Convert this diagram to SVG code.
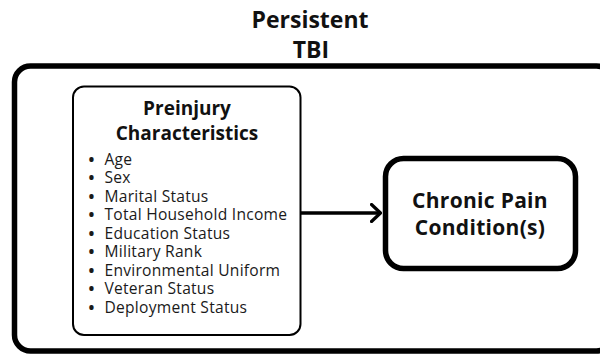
<svg xmlns="http://www.w3.org/2000/svg" width="600" height="354" viewBox="0 0 600 354">
  <style>
    .title { font-family: "Open Sans", "Liberation Sans", sans-serif; font-weight: 700; fill: #111; text-anchor: middle; }
    .item { font-family: "Open Sans", "Liberation Sans", sans-serif; font-size: 15.6px; letter-spacing: 0.25px; fill: #1a1a1a; }
    .dot { font-weight: 700; }
    .box { fill: #fff; stroke: #000; }
  </style>
  <defs>
    <marker id="chevron" viewBox="0 0 12 20" refX="11" refY="10" markerWidth="12" markerHeight="20" markerUnits="userSpaceOnUse" orient="auto">
      <path d="M1.5 1.5 L10.5 10 L1.5 18.5" fill="none" stroke="#000" stroke-width="3.2" stroke-linecap="round" stroke-linejoin="round"/>
    </marker>
  </defs>
  <rect width="600" height="354" fill="#fff"/>

  <!-- heading -->
  <g id="heading">
    <text class="title" x="310" y="28" font-size="23">Persistent</text>
    <text class="title" x="311" y="58" font-size="23">TBI</text>
  </g>

  <!-- outer container -->
  <g id="persistent-tbi">
    <rect class="box" x="14.5" y="66" width="598" height="285" rx="16" stroke-width="5.5"/>
  </g>

  <!-- preinjury characteristics -->
  <g id="preinjury">
    <rect class="box" x="73" y="86.5" width="227.5" height="248.5" rx="11" stroke-width="2"/>
    <text class="title" x="187" y="115" font-size="19">Preinjury</text>
    <text class="title" x="187" y="139.5" font-size="19">Characteristics</text>
    <g class="item">
      <text x="88.5" y="164.5"><tspan class="dot">•</tspan><tspan x="104.5">Age</tspan></text>
      <text x="88.5" y="183"><tspan class="dot">•</tspan><tspan x="104.5">Sex</tspan></text>
      <text x="88.5" y="201.5"><tspan class="dot">•</tspan><tspan x="104.5">Marital Status</tspan></text>
      <text x="88.5" y="220"><tspan class="dot">•</tspan><tspan x="104.5">Total Household Income</tspan></text>
      <text x="88.5" y="238.5"><tspan class="dot">•</tspan><tspan x="104.5">Education Status</tspan></text>
      <text x="88.5" y="257"><tspan class="dot">•</tspan><tspan x="104.5">Military Rank</tspan></text>
      <text x="88.5" y="275.5"><tspan class="dot">•</tspan><tspan x="104.5">Environmental Uniform</tspan></text>
      <text x="88.5" y="294"><tspan class="dot">•</tspan><tspan x="104.5">Veteran Status</tspan></text>
      <text x="88.5" y="312.5"><tspan class="dot">•</tspan><tspan x="104.5">Deployment Status</tspan></text>
    </g>
  </g>

  <!-- chronic pain outcome -->
  <g id="chronic-pain">
    <rect class="box" x="385.5" y="158.5" width="190" height="110" rx="18" stroke-width="5.5"/>
    <text class="title" x="480" y="208" font-size="21" letter-spacing="0.3">Chronic Pain</text>
    <text class="title" x="480" y="235" font-size="21" letter-spacing="0.3">Condition(s)</text>
  </g>

  <!-- connectors -->
  <g id="connectors">
    <line x1="301" y1="213" x2="381" y2="213" stroke="#000" stroke-width="3.5" marker-end="url(#chevron)"/>
  </g>
</svg>
